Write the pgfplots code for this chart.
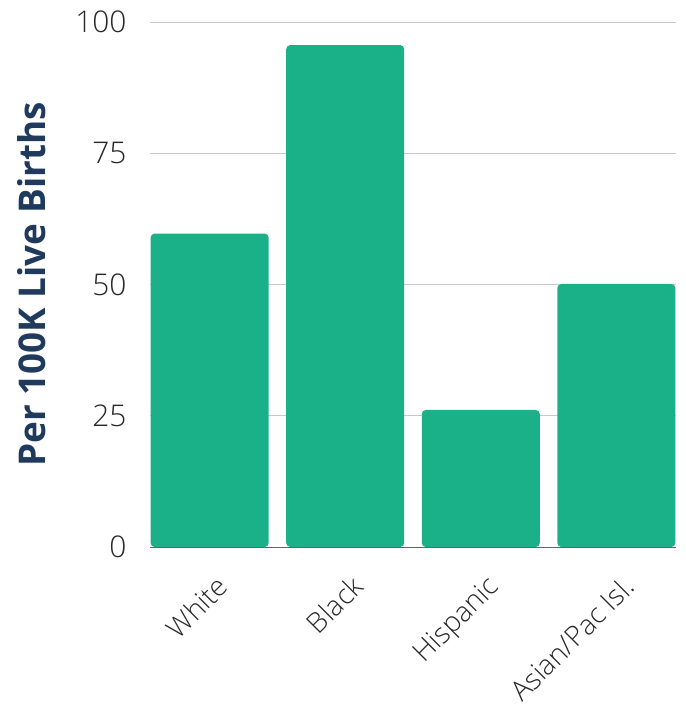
\documentclass[border=0pt]{standalone}
\usepackage{pgfplots}
\pgfplotsset{compat=1.18}
\usepackage{fontspec}
\setmainfont{Open Sans}
\newfontfamily\lightfont{Open Sans Light}
\definecolor{barc}{RGB}{27,177,136}
\definecolor{navy}{RGB}{31,58,92}
\definecolor{tickc}{RGB}{40,40,40}
\begin{document}
\begin{tikzpicture}
\begin{axis}[
  name=ax,
  scale only axis,
  width=526bp, height=525bp,
  xmin=-0.44, xmax=3.44,
  ymin=0, ymax=100,
  ytick={0,25,50,75,100},
  xtick=data,
  xticklabels={White,Black,Hispanic,Asian/Pac Isl.},
  major tick length=0pt,
  axis line style={draw=none},
  axis x line*=bottom,
  axis y line*=left,
  ymajorgrids,
  grid style={draw={rgb,255:red,200;green,200;blue,200}, line width=0.8bp},
  /pgf/number format/assume math mode=true,
  yticklabel style={font=\lightfont\fontsize{30}{30}\selectfont, text=tickc, xshift=-20bp},
  xticklabel style={font=\lightfont\fontsize{28}{28}\selectfont, text=tickc, rotate=45, anchor=north east, yshift=-19bp, xshift=-12bp},
  ylabel={Per 100K Live Births},
  ylabel style={font=\fontsize{37}{37}\selectfont\bfseries, text=navy, at={(axis description cs:-0.224,0.5)}, anchor=center},
  ybar, bar width=118bp, bar shift=0pt,
  clip=false,
]
\addplot[fill=barc, draw=none, rounded corners=4bp] coordinates {(0,59.7) (1,95.6) (2,26.1) (3,50.1)};
\draw[draw={rgb,255:red,100;green,100;blue,100}, line width=1bp] (axis cs:-0.44,0) -- (axis cs:3.44,0);
\end{axis}
\pgfresetboundingbox
\path[use as bounding box] ([xshift=-150bp,yshift=-159bp]ax.south west) rectangle ([xshift=10bp,yshift=22bp]ax.north east);
\end{tikzpicture}
\end{document}
